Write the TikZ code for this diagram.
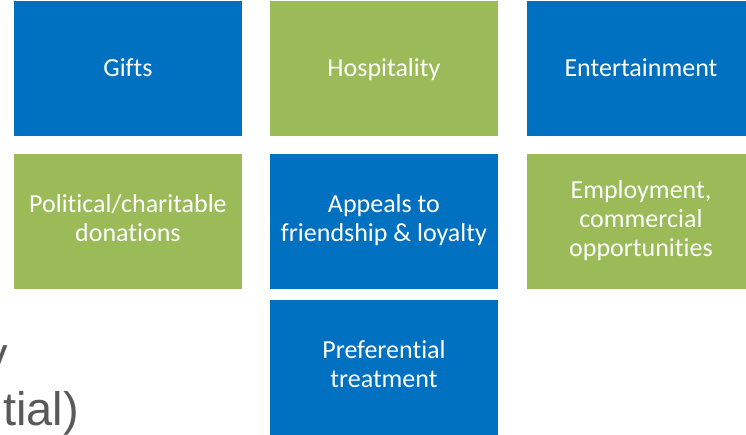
\documentclass[tikz,border=0pt]{standalone}
\usepackage{fontspec}
\setmainfont{Carlito}[Ligatures=NoCommon]
\newfontfamily\arialfont{Liberation Sans}
\definecolor{boxblue}{RGB}{0,112,192}
\definecolor{boxgreen}{RGB}{155,187,89}
\definecolor{graytext}{RGB}{89,89,89}
\newcommand\tilestrut{\rule[-7pt]{0pt}{29pt}}
\begin{document}
\begin{tikzpicture}[x=1pt,y=1pt,
  tile/.style={minimum width=227.5pt, minimum height=135pt, inner sep=0pt, text=white,
    align=center, font=\fontsize{26}{29}\selectfont, anchor=north west,
    execute at begin node=\tilestrut, execute at end node=\tilestrut},
  bluetile/.style={tile, fill=boxblue},
  greentile/.style={tile, fill=boxgreen},
  bgtext/.style={font=\arialfont\fontsize{47}{55}\selectfont, text=graytext, inner sep=0pt, anchor=base east}]
\useasboundingbox (0,0) rectangle (746,434);
\clip (0,0) rectangle (746,434);
\node[bgtext] (bgone) at (8,64) {y};
\node[bgtext] (bgtwo) at (79,9) {tial)};
\node[bluetile]  (gifts) at (14,433) {Gifts};
\node[greentile] (hosp)  at (270,433) {Hospitality};
\node[bluetile]  (ent)   at (527,433) {Entertainment};
\node[greentile] (pol)   at (14,280) {Political/charitable\\donations};
\node[bluetile]  (app)   at (270,280) {Appeals to\\friendship \& loyalty};
\node[greentile] (emp)   at (527,280) {Employment,\\commercial\\opportunities};
\node[bluetile]  (pref)  at (270,134) {Preferential\\treatment};
\end{tikzpicture}
\end{document}
